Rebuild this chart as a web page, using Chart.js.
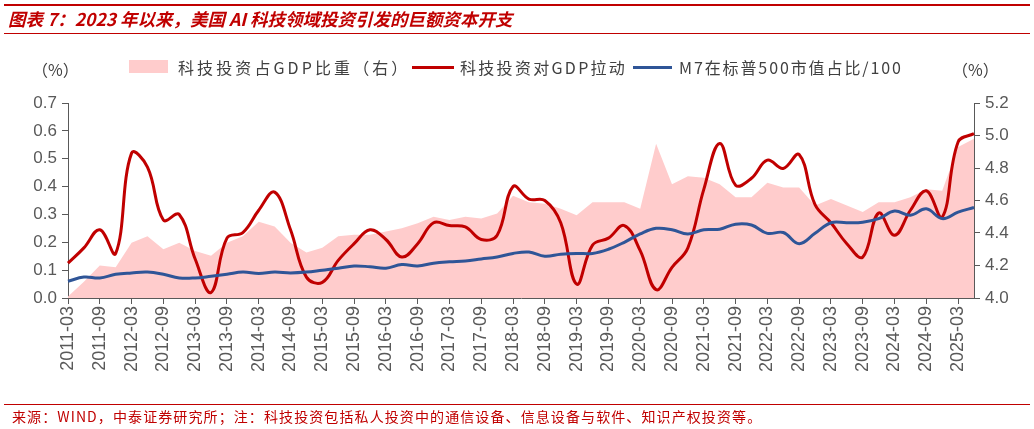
<!DOCTYPE html>
<html>
<head>
<meta charset="utf-8">
<script src="https://cdn.jsdelivr.net/npm/chart.js@4.4.1/dist/chart.umd.min.js"></script>
<style>
  body { margin: 0; background: #fff; }
  #wrap { position: relative; width: 1034px; height: 429px; overflow: hidden; font-family: "Noto Sans CJK SC", sans-serif; }
  #wrap canvas { position: absolute; left: 0; top: 0; }
  .abs { position: absolute; white-space: nowrap; }
  .rule { position: absolute; background: #C00000; }
  #title { left: 8px; top: 6px; font-size: 17.5px; font-weight: bold; font-style: italic; color: #C00000; line-height: 26px; }
  .leg { font-size: 16px; color: #404040; line-height: 20px; top: 57px; }
  #note { left: 12px; top: 407px; font-size: 14px; color: #C00000; line-height: 18px; letter-spacing: 1.1px; }
</style>
</head>
<body>
<div id="wrap">
  <canvas id="myChart"></canvas>
  <div class="rule" style="left:4px; top:4px; width:1026px; height:2px;"></div>
  <div class="abs" id="title">图表 7：2023 年以来，美国 AI 科技领域投资引发的巨额资本开支</div>
  <div class="rule" style="left:4px; top:33px; width:1026px; height:1px;"></div>

  <div class="abs leg" style="left:32px; top:59px;">（%）</div>
  <div class="abs" style="left:129px; top:60px; width:39px; height:13px; background:#FFCCCC;"></div>
  <div class="abs leg" style="left:178px; letter-spacing:3.1px;">科技投资占GDP比重（右）</div>
  <div class="abs" style="left:412px; top:66px; width:42px; height:3px; background:#C00000;"></div>
  <div class="abs leg" style="left:460px; letter-spacing:2.3px;">科技投资对GDP拉动</div>
  <div class="abs" style="left:633px; top:66px; width:39px; height:3px; background:#2F5597;"></div>
  <div class="abs leg" style="left:679px; letter-spacing:1.9px;">M7在标普500市值占比/100</div>
  <div class="abs leg" style="left:952px; top:59px;">（%）</div>

  <div class="rule" style="left:4px; top:404px; width:1026px; height:1px;"></div>
  <div class="abs" id="note">来源：WIND，中泰证券研究所；注：科技投资包括私人投资中的通信设备、信息设备与软件、知识产权投资等。</div>
</div>

<script>
// quarterly, 2011-03 .. 2025-06
var quarters = [];
for (var y = 2011; y <= 2025; y++) {
  ["03", "06", "09", "12"].forEach(function(m) {
    if (y === 2025 && (m === "09" || m === "12")) return;
    quarters.push(y + "-" + m);
  });
}

// 科技投资占GDP比重（右）
var techShare = [
  4.01, 4.10, 4.20, 4.19, 4.34, 4.38, 4.30, 4.34, 4.29, 4.26,
  4.34, 4.38, 4.47, 4.44, 4.34, 4.28, 4.31, 4.38, 4.39, 4.39,
  4.41, 4.43, 4.46, 4.50, 4.48, 4.50, 4.49, 4.52, 4.63, 4.59,
  4.58, 4.55, 4.51, 4.59, 4.59, 4.59, 4.55, 4.95, 4.70, 4.75,
  4.74, 4.70, 4.62, 4.62, 4.71, 4.68, 4.68, 4.57, 4.61, 4.57,
  4.53, 4.59, 4.59, 4.62, 4.67, 4.66, 4.93, 4.98
];

// 科技投资对GDP拉动
var techPull = [
  0.125, 0.18, 0.245, 0.16, 0.52, 0.47, 0.28, 0.30, 0.14, 0.02,
  0.215, 0.235, 0.315, 0.38, 0.245, 0.075, 0.056, 0.135, 0.195, 0.245,
  0.21, 0.147, 0.195, 0.27, 0.26, 0.255, 0.21, 0.225, 0.40, 0.355,
  0.35, 0.27, 0.05, 0.19, 0.215, 0.26, 0.17, 0.03, 0.11, 0.18,
  0.39, 0.555, 0.405, 0.43, 0.495, 0.465, 0.515, 0.335, 0.27, 0.195,
  0.147, 0.305, 0.225, 0.315, 0.385, 0.29, 0.56, 0.59
];

// M7在标普500市值占比/100
var m7Share = [
  0.06, 0.075, 0.072, 0.085, 0.09, 0.093, 0.085, 0.072, 0.072, 0.078,
  0.085, 0.093, 0.088, 0.093, 0.09, 0.093, 0.10, 0.107, 0.115, 0.112,
  0.107, 0.12, 0.115, 0.125, 0.13, 0.133, 0.14, 0.147, 0.16, 0.165,
  0.15, 0.157, 0.16, 0.16, 0.175, 0.20, 0.23, 0.25, 0.245, 0.23,
  0.245, 0.247, 0.265, 0.262, 0.232, 0.235, 0.195, 0.232, 0.27, 0.27,
  0.272, 0.285, 0.312, 0.297, 0.32, 0.285, 0.308, 0.325
];

var axisColor = "#595959";
var tickFont = { family: "'Liberation Sans', Arial, sans-serif", size: 17 };

var ctx = document.getElementById("myChart").getContext("2d");
new Chart(ctx, {
  type: "line",
  data: {
    labels: quarters,
    datasets: [
      {
        label: "科技投资占GDP比重（右）",
        data: techShare,
        yAxisID: "y1",
        fill: "start",
        backgroundColor: "#FFCCCC",
        borderWidth: 0,
        borderColor: "rgba(0,0,0,0)",
        pointRadius: 0,
        tension: 0,
        order: 3
      },
      {
        label: "科技投资对GDP拉动",
        data: techPull,
        yAxisID: "y",
        borderColor: "#C00000",
        borderWidth: 3,
        pointRadius: 0,
        tension: 0.4,
        fill: false,
        order: 2
      },
      {
        label: "M7在标普500市值占比/100",
        data: m7Share,
        yAxisID: "y",
        borderColor: "#2F5597",
        borderWidth: 3,
        pointRadius: 0,
        tension: 0.4,
        fill: false,
        order: 1
      }
    ]
  },
  options: {
    responsive: true,
    maintainAspectRatio: false,
    animation: false,
    layout: { padding: { top: 103, left: 0, right: 0, bottom: 0 } },
    plugins: {
      legend: { display: false },
      tooltip: { enabled: false }
    },
    scales: {
      x: {
        offset: false,
        grid: {
          drawOnChartArea: false,
          tickLength: 6,
          color: function(c) { return c.index % 2 === 0 ? axisColor : "rgba(0,0,0,0)"; }
        },
        border: { color: axisColor, width: 1 },
        ticks: {
          autoSkip: false,
          minRotation: 90,
          maxRotation: 90,
          padding: 2,
          color: axisColor,
          font: { family: tickFont.family, size: 18 },
          callback: function(v, i) { return i % 2 === 0 ? this.getLabelForValue(v) : ""; }
        },
        afterFit: function(s) { s.height = 131; }
      },
      y: {
        position: "left",
        min: 0,
        max: 0.7,
        grid: { drawOnChartArea: false, tickLength: 6, color: axisColor },
        border: { color: axisColor, width: 1 },
        ticks: {
          stepSize: 0.1,
          padding: 5,
          color: axisColor,
          font: tickFont,
          callback: function(v) { return v.toFixed(1); }
        },
        afterFit: function(s) { s.width = 68; }
      },
      y1: {
        position: "right",
        min: 4.0,
        max: 5.2,
        grid: { drawOnChartArea: false, tickLength: 6, color: axisColor },
        border: { color: axisColor, width: 1 },
        ticks: {
          stepSize: 0.2,
          padding: 5,
          color: axisColor,
          font: tickFont,
          callback: function(v) { return v.toFixed(1); }
        },
        afterFit: function(s) { s.width = 60; }
      }
    }
  }
});
</script>
</body>
</html>
